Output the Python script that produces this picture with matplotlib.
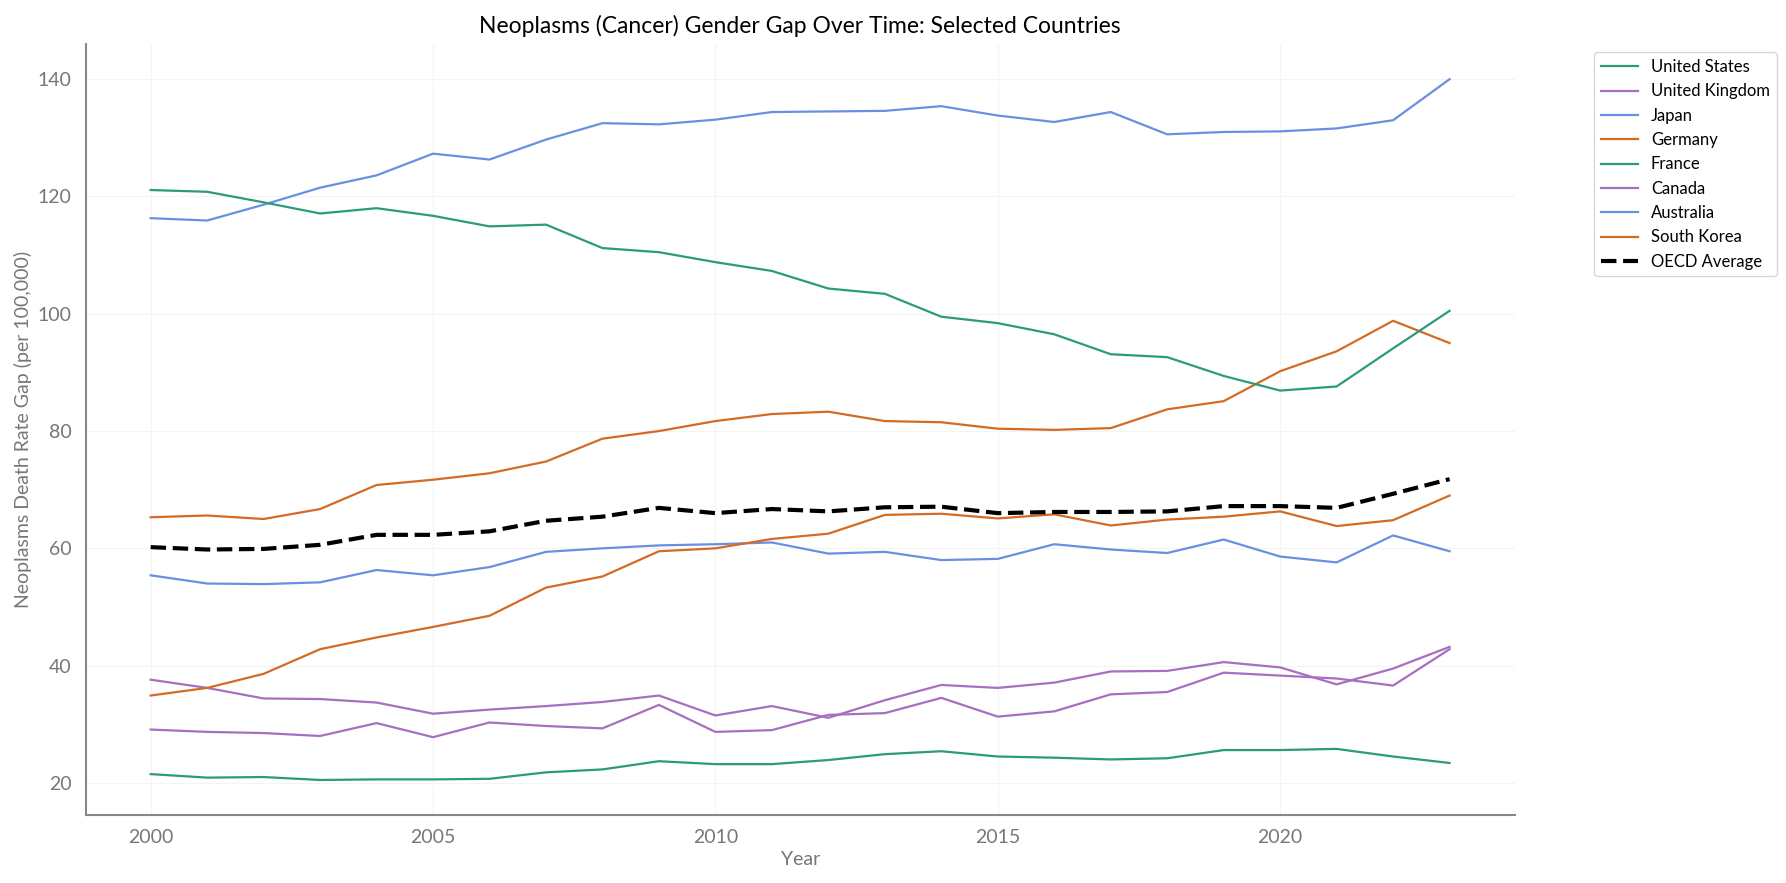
import matplotlib
matplotlib.use("Agg")
import matplotlib.pyplot as plt

years = list(range(2000, 2024))

united_states = [21.5, 20.9, 21.0, 20.5, 20.6, 20.6, 20.7, 21.8, 22.3, 23.7, 23.2, 23.2,
                 23.9, 24.9, 25.4, 24.5, 24.3, 24.0, 24.2, 25.6, 25.6, 25.8, 24.5, 23.4]
united_kingdom = [37.6, 36.2, 34.4, 34.3, 33.7, 31.8, 32.5, 33.1, 33.8, 34.9, 31.5, 33.1,
                  31.1, 34.1, 36.7, 36.2, 37.1, 39.0, 39.1, 40.6, 39.7, 36.8, 39.5, 43.2]
japan = [116.3, 115.9, 118.6, 121.5, 123.6, 127.3, 126.3, 129.7, 132.5, 132.3, 133.1, 134.4,
         134.5, 134.6, 135.4, 133.8, 132.7, 134.4, 130.6, 131.0, 131.1, 131.6, 133.0, 140.0]
germany = [65.3, 65.6, 65.0, 66.7, 70.8, 71.7, 72.8, 74.8, 78.7, 80.0, 81.7, 82.9,
           83.3, 81.7, 81.5, 80.4, 80.2, 80.5, 83.7, 85.1, 90.2, 93.6, 98.8, 95.0]
france = [121.1, 120.8, 119.0, 117.1, 118.0, 116.7, 114.9, 115.2, 111.2, 110.5, 108.8, 107.3,
          104.3, 103.4, 99.5, 98.4, 96.5, 93.1, 92.6, 89.4, 86.9, 87.6, 94.1, 100.5]
canada = [29.1, 28.7, 28.5, 28.0, 30.2, 27.8, 30.3, 29.7, 29.3, 33.3, 28.7, 29.0,
          31.6, 31.9, 34.5, 31.3, 32.2, 35.1, 35.5, 38.8, 38.3, 37.8, 36.6, 42.8]
australia = [55.4, 54.0, 53.9, 54.2, 56.3, 55.4, 56.8, 59.4, 60.0, 60.5, 60.7, 61.0,
             59.1, 59.4, 58.0, 58.2, 60.7, 59.8, 59.2, 61.5, 58.6, 57.6, 62.2, 59.5]
south_korea = [34.9, 36.2, 38.6, 42.8, 44.8, 46.6, 48.5, 53.3, 55.2, 59.5, 60.0, 61.6,
               62.5, 65.7, 65.9, 65.1, 65.8, 63.9, 64.9, 65.4, 66.3, 63.8, 64.8, 69.0]
oecd_average = [60.2, 59.8, 59.9, 60.6, 62.3, 62.3, 62.9, 64.7, 65.4, 66.9, 66.0, 66.7,
                66.3, 67.0, 67.1, 66.0, 66.2, 66.2, 66.3, 67.2, 67.2, 66.9, 69.3, 71.8]

countries = ["United States", "United Kingdom", "Japan", "Germany",
             "France", "Canada", "Australia", "South Korea"]
series = [united_states, united_kingdom, japan, germany,
          france, canada, australia, south_korea]

plt.rcParams['font.family'] = ['Lato', 'DejaVu Sans']

fig = plt.figure(figsize=(17.86, 8.83), dpi=100)
ax = fig.add_axes([0.048, 0.077, 0.8, 0.873])

paint = ["#2b9a7e", "#a66fc0", "#6a8fe2", "#d46b24"]
for i, name in enumerate(countries):
    ax.plot(years, series[i], color=paint[i % 4], linewidth=1.6, label=name)
ax.plot(years, oecd_average, color="black", linewidth=3, linestyle="--",
        label="OECD Average")

ax.set_title("Neoplasms (Cancer) Gender Gap Over Time: Selected Countries",
             fontsize=16.5, color="black", pad=8)
ax.set_xlabel("Year", fontsize=14, color="#777777")
ax.set_ylabel("Neoplasms Death Rate Gap (per 100,000)", fontsize=14, color="#777777")
ax.set_xticks([2000, 2005, 2010, 2015, 2020])
ax.set_yticks([20, 40, 60, 80, 100, 120, 140])
ax.tick_params(length=0, labelsize=14, labelcolor="#777777", pad=10)

ax.grid(True, color="#f4f4f4", linewidth=0.8)
for side in ["top", "right"]:
    ax.spines[side].set_visible(False)
for side in ["left", "bottom"]:
    ax.spines[side].set_color("#888888")
    ax.spines[side].set_linewidth(1.5)

ax.legend(loc="upper left", bbox_to_anchor=(1.05, 1.0), fontsize=12,
          frameon=True, edgecolor="#cccccc", handlelength=2.2)

plt.savefig("out.png", dpi=100)
